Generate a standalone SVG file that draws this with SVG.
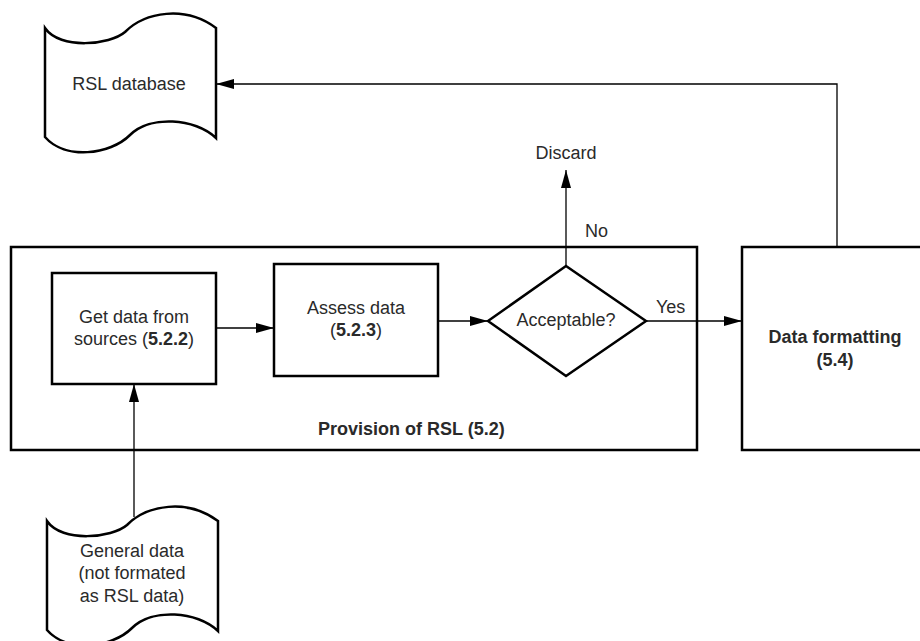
<svg xmlns="http://www.w3.org/2000/svg" xmlns:xlink="http://www.w3.org/1999/xlink" width="920" height="641" viewBox="0 0 920 641">
<style>
.shape{fill:#fff;stroke:#000;stroke-width:2.5;stroke-linejoin:miter}
.conn{fill:none;stroke:#000;stroke-width:1.3}
.t{font-family:"Liberation Sans",Arial,sans-serif;font-size:18px;fill:#2a2a2a}
.c{text-anchor:middle}
.b{font-weight:bold}
</style>
<defs>
<marker id="arr" viewBox="0 0 18 10" refX="18" refY="5" markerWidth="18" markerHeight="10" markerUnits="userSpaceOnUse" orient="auto">
<path d="M0,0 L18,5 L0,10 Z" fill="#000"/>
</marker>
<path id="tape" d="M45,28 C60,50 110,45 125,32 C145,12 185,5 216,28 L216,138 C195,118 150,115 130,135 C110,155 65,160 45,137 Z"/>
</defs>
<rect width="920" height="641" fill="#fff"/>

<g id="provision">
<rect class="shape" x="11" y="247" width="686" height="203"/>
<text class="t b" x="318" y="435">Provision of RSL (5.2)</text>
</g>

<g id="rsl-database">
<use xlink:href="#tape" class="shape"/>
<text class="t c" x="129" y="90">RSL database</text>
</g>

<g id="general-data">
<use xlink:href="#tape" class="shape" transform="translate(2,493)"/>
<text class="t c" x="132" y="557">General data</text>
<text class="t c" x="132" y="579">(not formated</text>
<text class="t c" x="132" y="602">as RSL data)</text>
</g>

<g id="get-data">
<rect class="shape" x="52" y="273" width="164" height="111"/>
<text class="t c" x="134" y="323">Get data from</text>
<text class="t c" x="134" y="345">sources (<tspan class="b">5.2.2</tspan>)</text>
</g>

<g id="assess-data">
<rect class="shape" x="274" y="264" width="164" height="112"/>
<text class="t c" x="356" y="314">Assess data</text>
<text class="t c" x="356" y="336">(<tspan class="b">5.2.3</tspan>)</text>
</g>

<g id="acceptable">
<path class="shape" d="M488,321 L566,266 L646,321 L566,376 Z"/>
<text class="t c" x="566" y="326">Acceptable?</text>
</g>

<g id="data-formatting">
<rect class="shape" x="742" y="247" width="190" height="203"/>
<text class="t c b" x="835" y="343">Data formatting</text>
<text class="t c b" x="835" y="366">(5.4)</text>
</g>

<g id="discard">
<text class="t c" x="566" y="159">Discard</text>
</g>

<g id="connectors">
<path class="conn" d="M216,328 L274,328" marker-end="url(#arr)"/>
<path class="conn" d="M438,321 L488,321" marker-end="url(#arr)"/>
<path class="conn" d="M646,321 L742,321" marker-end="url(#arr)"/>
<path class="conn" d="M566,266 L566,170" marker-end="url(#arr)"/>
<path class="conn" d="M837,247 L837,84 L216,84" marker-end="url(#arr)"/>
<path class="conn" d="M134,517 L134,384" marker-end="url(#arr)"/>
<text class="t" x="585" y="237">No</text>
<text class="t" x="656" y="313">Yes</text>
</g>
</svg>
